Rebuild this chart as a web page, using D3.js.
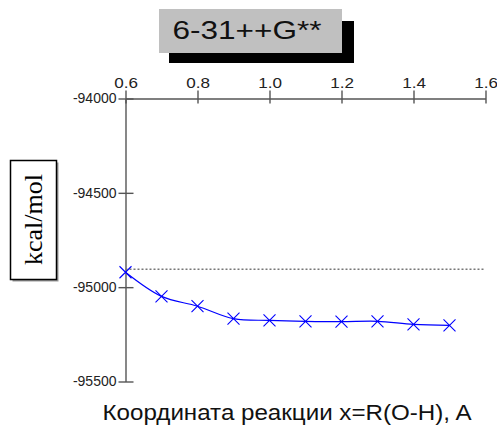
<!DOCTYPE html>
<html>
<head>
<meta charset="utf-8">
<script src="https://cdn.jsdelivr.net/npm/d3@7"></script>
<style>
  body { margin: 0; background: #fff; }
  svg { display: block; }
</style>
</head>
<body>
<svg id="chart" width="497" height="426"></svg>
<script>
// reaction coordinate R(O-H), A and energy, kcal/mol
let rValues = [0.6, 0.7, 0.8, 0.9, 1.0, 1.1, 1.2, 1.3, 1.4, 1.5]
let energy = [-94921, -95049, -95101, -95167, -95176, -95181, -95183, -95181, -95197, -95202]
let refLevel = -94905
let xTicks = [0.6, 0.8, 1.0, 1.2, 1.4, 1.6]
let yTicks = [-94000, -94500, -95000, -95500]
let titleText = "6-31++G**"
let yTitle = "kcal/mol"
let xTitle = "Координата реакции x=R(O-H), A"

let svg = d3.select("#chart")
let sans = "'Liberation Sans', Arial, sans-serif"

let x = d3.scaleLinear()
          .domain([0.6, 1.6])
          .range([125.5, 485.5])

let y = d3.scaleLinear()
          .domain([-94000, -95500])
          .range([98.5, 381.5])

// title box with shadow
svg.append("rect")
   .attr("x", 169).attr("y", 21).attr("width", 185).attr("height", 42)
   .attr("fill", "#000")
svg.append("rect")
   .attr("x", 159).attr("y", 9).attr("width", 183).attr("height", 44)
   .attr("fill", "#c0c0c0")
svg.append("text")
   .attr("x", 247).attr("y", 38.5)
   .attr("text-anchor", "middle")
   .attr("font-family", sans)
   .attr("font-size", 26)
   .attr("fill", "#111")
   .attr("textLength", 149)
   .attr("lengthAdjust", "spacingAndGlyphs")
   .text(titleText)

// x axis on top
let xAxis = svg.append("g")
   .attr("transform", "translate(0,98.5)")
   .call(d3.axisTop(x).tickValues(xTicks).tickSize(8).tickSizeOuter(0).tickPadding(3)
           .tickFormat(d3.format(".1f")))
xAxis.selectAll("line").attr("y1", 5)
xAxis.selectAll("text")
   .attr("font-family", sans).attr("font-size", 14).attr("fill", "#222")
   .attr("transform", "scale(1.22,1)")

// y axis
let yAxis = svg.append("g")
   .attr("transform", "translate(125.5,0)")
   .call(d3.axisLeft(y).tickValues(yTicks).tickSize(7).tickSizeOuter(0).tickPadding(2)
           .tickFormat(d => String(d)))
yAxis.selectAll("line").attr("x2", -7).attr("x1", 8)
yAxis.selectAll("text")
   .attr("font-family", sans).attr("font-size", 14).attr("fill", "#222")

svg.selectAll(".domain, .tick line")
   .attr("stroke", "#555").attr("stroke-width", 1.4)

// dotted reference level
svg.append("line")
   .attr("x1", x(0.6)).attr("x2", x(1.6))
   .attr("y1", y(refLevel)).attr("y2", y(refLevel))
   .attr("stroke", "#777").attr("stroke-width", 1.3)
   .attr("stroke-dasharray", "2,2")

// data curve
let line = d3.line()
   .x((d, i) => x(rValues[i]))
   .y(d => y(d))
   .curve(d3.curveCatmullRom)

svg.append("path")
   .datum(energy)
   .attr("d", line)
   .attr("fill", "none")
   .attr("stroke", "#0000ff")
   .attr("stroke-width", 1.2)

let s = 6
svg.selectAll(".mark")
   .data(energy)
   .enter()
   .append("path")
   .attr("class", "mark")
   .attr("d", (d, i) => {
     let cx = x(rValues[i]), cy = y(d)
     return "M" + (cx - s) + "," + (cy - s) + "L" + (cx + s) + "," + (cy + s) +
            "M" + (cx - s) + "," + (cy + s) + "L" + (cx + s) + "," + (cy - s)
   })
   .attr("stroke", "#0000ff")
   .attr("stroke-width", 1.1)
   .attr("fill", "none")

// y title box
svg.append("rect")
   .attr("x", 12.5).attr("y", 162.5).attr("width", 46).attr("height", 119)
   .attr("fill", "#999")
svg.append("rect")
   .attr("x", 10.5).attr("y", 160.5).attr("width", 46).attr("height", 119)
   .attr("fill", "#fff").attr("stroke", "#000").attr("stroke-width", 1.5)
svg.append("text")
   .attr("transform", "translate(42,219.5) rotate(-90)")
   .attr("text-anchor", "middle")
   .attr("font-family", "'Liberation Serif', 'Times New Roman', serif")
   .attr("font-size", 26)
   .attr("fill", "#000")
   .attr("textLength", 91)
   .attr("lengthAdjust", "spacingAndGlyphs")
   .text(yTitle)

// x title
svg.append("text")
   .attr("x", 287).attr("y", 419.5)
   .attr("text-anchor", "middle")
   .attr("font-family", sans)
   .attr("font-size", 22)
   .attr("fill", "#111")
   .attr("textLength", 369)
   .attr("lengthAdjust", "spacingAndGlyphs")
   .text(xTitle)
</script>
</body>
</html>
